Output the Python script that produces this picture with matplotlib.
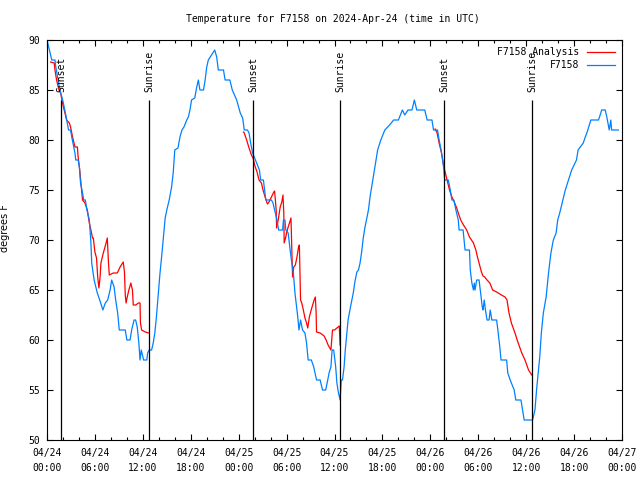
import datetime as dt
import matplotlib
matplotlib.use("Agg")
import matplotlib.pyplot as plt
import matplotlib.dates as mdates
from matplotlib.ticker import MultipleLocator

# hours since 2024-04-24 00:00 UTC, temperature in deg F
obs_hours = [0.0, 0.6, 1.0, 1.1, 1.4, 1.6, 1.8, 2.05, 2.4, 2.7, 2.95, 3.1, 3.3, 3.5, 3.6, 3.9,
             4.05, 4.2, 4.45, 4.6, 4.8, 5.0, 5.3, 5.5, 5.6, 5.9, 6.3, 6.6, 7.0, 7.3, 7.6, 7.9,
             8.1, 8.4, 8.6, 8.85, 9.05, 9.8, 10.0, 10.4, 10.6, 10.9, 11.1, 11.3, 11.5, 11.65,
             11.8, 11.95, 12.1, 12.5, 12.6, 12.8, 13.1, 13.3, 13.5, 13.7, 13.95, 14.15, 14.35,
             14.6, 14.8, 15.0, 15.3, 15.6, 15.8, 16.0, 16.4, 16.65, 16.9, 17.15, 17.5, 17.7,
             17.9, 18.1, 18.5, 18.75, 18.95, 19.15, 19.6, 19.8, 20.0, 20.2, 20.6, 21.0, 21.25,
             21.45, 22.1, 22.3, 22.9, 23.2, 23.75, 24.2, 24.5, 24.7, 25.1, 25.3, 25.5, 25.75,
             26.0, 26.25, 26.6, 26.75, 27.1, 27.2, 27.4, 28.1, 28.3, 28.5, 28.8, 29.0, 29.5,
             29.6, 29.8, 29.9, 30.2, 30.4, 30.6, 30.85, 31.05, 31.25, 31.4, 31.55, 31.75, 32.0,
             32.3, 32.5, 32.7, 33.1, 33.4, 33.75, 34.2, 34.5, 34.9, 35.1, 35.35, 35.55, 35.7,
             35.9, 36.15, 36.3, 36.5, 36.7, 36.85, 37.0, 37.2, 37.35, 37.5, 37.7, 38.0, 38.35,
             38.55, 38.8, 39.0, 39.2, 39.4, 39.6, 39.8, 40.0, 40.25, 40.45, 40.8, 41.1, 41.4,
             41.8, 42.3, 42.9, 43.4, 44.0, 44.5, 44.8, 45.2, 45.7, 46.0, 46.3, 46.7, 47.3,
             47.6, 48.2, 48.4, 48.9, 49.1, 49.3, 49.55, 49.7, 49.8, 50.25, 50.5, 50.7, 50.95,
             51.2, 51.5, 51.6, 52.1, 52.35, 52.9, 53.0, 53.2, 53.4, 53.5, 53.6, 53.8, 54.1,
             54.3, 54.5, 54.6, 54.75, 54.9, 55.1, 55.35, 55.5, 55.7, 56.3, 56.5, 56.7, 56.85,
             57.55, 57.7, 58.0, 58.5, 58.7, 59.35, 59.55, 59.75, 60.8, 61.1, 61.3, 61.5, 61.7,
             61.9, 62.15, 62.5, 62.8, 63.1, 63.4, 63.75, 63.95, 64.2, 64.9, 65.7, 66.3, 66.5,
             67.15, 67.4, 67.6, 68.1, 69.05, 69.35, 69.45, 69.9, 70.1, 70.4, 70.6, 70.7, 71.55]
obs_temp = [90, 88, 88, 87.3, 86, 85, 84.5, 83.7, 82.3, 81, 81, 80.3, 79.5, 78.7, 78, 78,
            77.3, 75.7, 74.7, 74, 74, 73, 72, 69.7, 67.7, 66, 64.7, 64, 63, 63.7, 64, 65,
            66, 65.3, 64, 62.7, 61, 61, 60, 60, 61, 62, 62, 61.3, 59.7, 58,
            59, 58.5, 58, 58, 58.7, 59, 59, 59.7, 60.7, 62.3, 64.7, 66.7, 68.3,
            70.5, 72.2, 73, 74, 75.3, 76.7, 79, 79.2, 80.3, 81, 81.3, 82, 82.3,
            83, 84, 84.2, 85.3, 86, 85, 85, 86, 87.3, 88, 88.5, 89, 88.3,
            87, 87, 86, 86, 85, 84, 82.7, 82.2, 81, 81, 80.7, 79.7, 78.7,
            78.2, 77.7, 77, 76, 76, 75.3, 74, 74, 73.7, 73, 72, 71, 71,
            72, 72, 71, 70.7, 69.3, 68, 66.7, 64.7, 63.3, 62.3, 61, 62, 61,
            60.7, 59.7, 58, 58, 57.3, 56, 56, 55, 55, 55.8, 56.8, 57.3, 59,
            59, 57.3, 55.7, 54.7, 54, 56, 56, 57.3, 59, 60.3, 62, 63.3, 64.7,
            65.8, 66.8, 67, 67.7, 68.8, 70.2, 71.2, 72, 73, 74.3, 76, 77.5, 79,
            80, 81, 81.5, 82, 82, 83, 82.5, 83, 83, 84, 83, 83, 83,
            82, 82, 81, 81, 80, 79.2, 78, 77, 76, 76, 75, 74, 74,
            73, 72, 71, 71, 69, 69, 67, 65.7, 65, 65.7, 65, 66, 66,
            64.7, 63.3, 63, 64, 63, 62, 62, 63, 62, 62, 60.7, 59.3, 58,
            58, 56.7, 56, 55, 54, 54, 53, 52, 52, 53, 55, 56.7, 58.3,
            60.7, 62.7, 64.3, 66.7, 68.7, 70, 70.7, 72, 72.7, 75, 77, 78, 79,
            79.7, 80.3, 80.7, 82, 82, 82.7, 83, 83, 82.3, 81, 82, 81, 81]

# analysis, one piece per night
ana1_hours = [0.45, 0.9, 1.0, 1.2, 1.5, 1.7, 2.05, 2.25, 2.45, 2.8, 2.95, 3.2, 3.5, 3.8, 3.9,
              4.1, 4.25, 4.45, 4.75, 5.05, 5.3, 5.5, 5.7, 5.8, 6.0, 6.2, 6.35, 6.5, 6.65,
              6.75, 7.05, 7.4, 7.55, 7.7, 7.8, 8.3, 8.8, 9.15, 9.55, 9.7, 9.8, 9.9, 10.05,
              10.25, 10.5, 10.7, 10.8, 11.1, 11.45, 11.65, 11.7, 11.85, 12.3, 12.75]
ana1_temp = [87.8, 87.7, 87, 86, 85, 84.7, 83.3, 82.7, 82, 81.7, 81.3, 80.3, 79.3, 79.3, 78.3,
             77, 75.7, 74, 73.7, 73, 71.7, 71, 70.2, 70.2, 68.8, 68.2, 66.3, 65.2, 66.3,
             67.7, 68.7, 69.7, 70.2, 67.7, 66.5, 66.7, 66.7, 67.3, 67.8, 66.8, 64.5, 63.7, 64.3,
             65, 65.7, 65, 63.5, 63.5, 63.7, 63.7, 61.7, 61, 60.8, 60.7]
ana2_hours = [24.6, 24.7, 25.0, 25.3, 25.6, 25.8, 26.0, 26.3, 26.55, 26.85, 27.05, 27.35, 27.6,
              27.8, 28.1, 28.4, 28.5, 28.7, 28.75, 28.95, 29.2, 29.4, 29.55, 29.65, 29.7, 29.9,
              30.0, 30.2, 30.4, 30.55, 30.6, 30.7, 30.75, 30.9, 31.1, 31.3, 31.5, 31.6, 31.75,
              31.9, 32.1, 32.3, 32.5, 32.65, 32.85, 33.15, 33.45, 33.6, 33.7, 33.75, 34.2, 34.7,
              34.95, 35.2, 35.55, 35.75, 36.0, 36.3, 36.6, 36.7]
ana2_temp = [80.8, 80.7, 80, 79.2, 78.5, 78.2, 77.5, 76.8, 76, 75.7, 75, 74.2, 73.6,
             73.8, 74.3, 74.8, 74.9, 73, 71.2, 72, 73.3, 73.8, 74.5, 72.7, 69.7, 70.3,
             70.7, 71.3, 71.8, 72.2, 70.7, 67.7, 66.3, 67.3, 67.5, 68.3, 69.3, 69.5, 64,
             63.7, 63, 62.2, 61.7, 61.2, 62.3, 63.2, 64, 64.3, 62.7, 60.8, 60.7, 60.4,
             60, 59.5, 59, 61, 61, 61.2, 61.4, 59.5]
ana3_hours = [48.6, 48.85, 49.1, 49.4, 49.6, 49.85, 50.1, 50.4, 50.7, 51.0, 51.3, 51.5, 51.8,
              52.15, 52.55, 52.9, 53.4, 53.7, 53.9, 54.1, 54.4, 54.6, 54.8, 55.1, 55.45, 55.8,
              56.3, 56.9, 57.35, 57.6, 57.85, 58.15, 58.6, 59.0, 59.45, 59.85, 60.3, 60.7]
ana3_temp = [81.1, 80.7, 79.7, 78.7, 77.7, 76.8, 76, 75, 74.3, 73.8, 73.2, 72.7, 72,
             71.5, 71, 70.3, 69.7, 69, 68.3, 67.7, 66.8, 66.4, 66.3, 66, 65.7, 65,
             64.8, 64.5, 64.3, 64, 62.7, 61.7, 60.7, 59.7, 58.7, 58, 57, 56.5]

sunset_hours = [1.8, 25.8, 49.75]
sunrise_hours = [12.8, 36.75, 60.75]

start = dt.datetime(2024, 4, 24)


def to_time(hours):
    return [start + dt.timedelta(hours=h) for h in hours]


plt.rcParams['font.family'] = 'DejaVu Sans Mono'
plt.rcParams['font.size'] = 7

fig = plt.figure(figsize=(6.4, 4.8), dpi=100)
ax = fig.add_axes([47 / 640, 40 / 480, 575 / 640, 400 / 480])

red = '#ff0000'
blue = '#0080ff'

ax.plot(to_time(ana1_hours), ana1_temp, color=red, lw=0.9, label='F7158 Analysis')
ax.plot(to_time(ana2_hours), ana2_temp, color=red, lw=0.9)
ax.plot(to_time(ana3_hours), ana3_temp, color=red, lw=0.9)
ax.plot(to_time(obs_hours), obs_temp, color=blue, lw=0.9, label='F7158')

# sunset / sunrise markers
for name, hours in (('Sunset', sunset_hours), ('Sunrise', sunrise_hours)):
    for t in to_time(hours):
        ax.vlines(t, 50, 84, color='black', lw=0.9)
        ax.text(t, 84.8, name, rotation=90, ha='center', va='bottom', fontsize=7)

ax.set_xlim(start, start + dt.timedelta(hours=72))
ax.set_ylim(50, 90)
ax.xaxis.set_major_locator(mdates.HourLocator(byhour=[0, 6, 12, 18]))
ax.xaxis.set_minor_locator(mdates.HourLocator(byhour=range(0, 24, 2)))
ax.xaxis.set_major_formatter(mdates.DateFormatter('%m/%d\n%H:%M'))
ax.yaxis.set_major_locator(MultipleLocator(5))

ax.tick_params(which='both', direction='in', top=True, right=True, width=0.8)
ax.tick_params(which='major', length=4)
ax.tick_params(which='minor', length=2)
ax.tick_params(axis='x', pad=6)
ax.tick_params(axis='y', pad=5)
for lbl in ax.get_xticklabels():
    lbl.set_linespacing(1.55)
for sp in ax.spines.values():
    sp.set_linewidth(0.8)

ax.set_ylabel('degrees F', family='DejaVu Sans', fontsize=7)
ax.yaxis.set_label_coords(-0.064, 0.53)

fig.text(333 / 640, 1 - 19 / 480, 'Temperature for F7158 on 2024-Apr-24 (time in UTC)',
         ha='center', va='center', fontsize=7)

leg = ax.legend(loc='upper right', frameon=False, markerfirst=False, handlelength=2.9,
                handletextpad=0.7, borderaxespad=0.25, borderpad=0.5, labelspacing=0.3,
                fontsize=7)

fig.savefig('out.png', dpi=100)
